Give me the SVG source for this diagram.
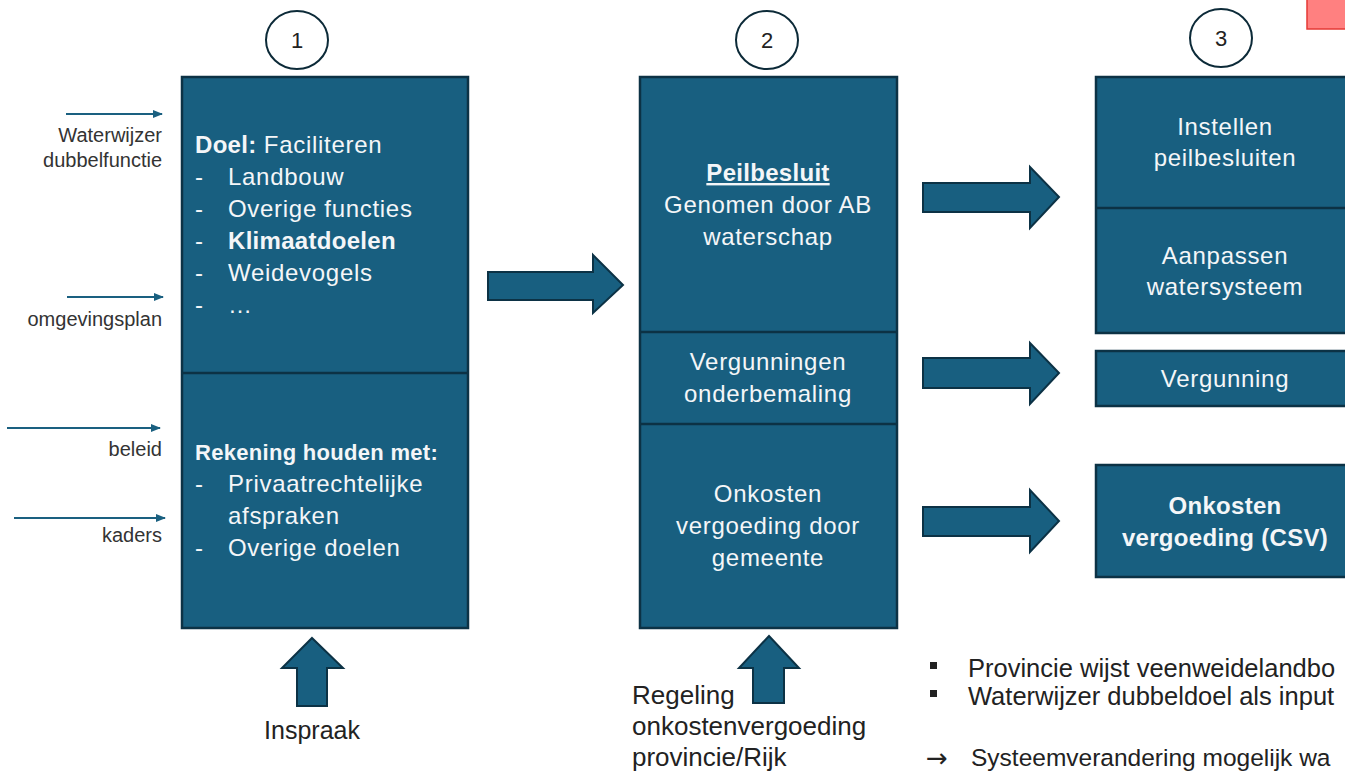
<svg xmlns="http://www.w3.org/2000/svg" width="1345" height="771" viewBox="0 0 1345 771">
<defs>
<style>
.box{fill:#185f80;stroke:#0c3245;stroke-width:2.5}
.div{stroke:#0c3245;stroke-width:2.5}
.big{fill:#185f80;stroke:#0c3245;stroke-width:2;stroke-linejoin:miter}
.wt{font-family:"Liberation Sans",Arial,sans-serif;font-size:24px;letter-spacing:0.7px;fill:#f4f6f8}
.c{text-anchor:middle}
.b{font-weight:bold;letter-spacing:0.3px}
.lbl{font-family:"Liberation Sans",Arial,sans-serif;font-size:20px;fill:#333;text-anchor:end}
.dk{font-family:"Liberation Sans",Arial,sans-serif;font-size:22px;fill:#222}
.nt{font-family:"Liberation Sans",Arial,sans-serif;font-size:26px;fill:#222}
.circ{fill:#fff;stroke:#0c2a38;stroke-width:2}
.thin{stroke:#1a6080;stroke-width:2;fill:none;marker-end:url(#ah)}
</style>
<marker id="ah" markerWidth="10" markerHeight="8" refX="9" refY="4" orient="auto" markerUnits="userSpaceOnUse">
<path d="M0,0 L10,4 L0,8 Z" fill="#1a6080"/>
</marker>
</defs>
<rect width="1345" height="771" fill="#fff"/>

<rect x="1307" y="-2" width="44" height="31" fill="#ff8080" stroke="#e53935" stroke-width="1.5"/>

<g id="step1">
<ellipse class="circ" cx="297" cy="40" rx="31" ry="29"/>
<text class="dk c" x="297" y="48">1</text>
</g>
<g id="step2">
<ellipse class="circ" cx="767" cy="40" rx="31" ry="29"/>
<text class="dk c" x="767" y="48">2</text>
</g>
<g id="step3">
<ellipse class="circ" cx="1221" cy="38" rx="31" ry="29"/>
<text class="dk c" x="1221" y="46">3</text>
</g>

<g id="box1">
<rect class="box" x="182" y="77" width="286" height="551"/>
<line class="div" x1="182" y1="373" x2="468" y2="373"/>
<text class="wt" x="195" y="153"><tspan class="b">Doel:</tspan> Faciliteren</text>
<text class="wt" x="195" y="185">-</text><text class="wt" x="228" y="185">Landbouw</text>
<text class="wt" x="195" y="217">-</text><text class="wt" x="228" y="217">Overige functies</text>
<text class="wt" x="195" y="249">-</text><text class="wt b" x="228" y="249">Klimaatdoelen</text>
<text class="wt" x="195" y="281">-</text><text class="wt" x="228" y="281">Weidevogels</text>
<text class="wt" x="195" y="313">-</text><text class="wt" x="228" y="313">…</text>
<text class="wt b" x="195" y="460" style="font-size:22px">Rekening houden met:</text>
<text class="wt" x="195" y="492">-</text><text class="wt" x="228" y="492">Privaatrechtelijke</text>
<text class="wt" x="228" y="524">afspraken</text>
<text class="wt" x="195" y="556">-</text><text class="wt" x="228" y="556">Overige doelen</text>
</g>

<g id="box2">
<rect class="box" x="640" y="77" width="257" height="551"/>
<line class="div" x1="640" y1="332" x2="897" y2="332"/>
<line class="div" x1="640" y1="424" x2="897" y2="424"/>
<text class="wt c b" x="768" y="181" text-decoration="underline">Peilbesluit</text>
<text class="wt c" x="768" y="213">Genomen door AB</text>
<text class="wt c" x="768" y="245">waterschap</text>
<text class="wt c" x="768" y="370">Vergunningen</text>
<text class="wt c" x="768" y="402">onderbemaling</text>
<text class="wt c" x="768" y="502">Onkosten</text>
<text class="wt c" x="768" y="534">vergoeding door</text>
<text class="wt c" x="768" y="566">gemeente</text>
</g>

<g id="box3a">
<rect class="box" x="1096" y="77" width="270" height="256"/>
<line class="div" x1="1096" y1="208" x2="1366" y2="208"/>
<text class="wt c" x="1225" y="135">Instellen</text>
<text class="wt c" x="1225" y="166">peilbesluiten</text>
<text class="wt c" x="1225" y="264">Aanpassen</text>
<text class="wt c" x="1225" y="295">watersysteem</text>
</g>
<g id="box3b">
<rect class="box" x="1096" y="351" width="270" height="55"/>
<text class="wt c" x="1225" y="387">Vergunning</text>
</g>
<g id="box3c">
<rect class="box" x="1096" y="465" width="270" height="112"/>
<text class="wt c b" x="1225" y="514">Onkosten</text>
<text class="wt c b" x="1225" y="546">vergoeding (CSV)</text>
</g>

<g id="connectors">
<path class="big" d="M488,272 H593 V255 L623,285 L593,313 V300 H488 Z"/>
<path class="big" d="M923,183 H1030 V167 L1059,197 L1030,228 V212 H923 Z"/>
<path class="big" d="M923,358 H1030 V343 L1059,373 L1030,404 V388 H923 Z"/>
<path class="big" d="M923,507 H1030 V490 L1059,521 L1030,552 V536 H923 Z"/>
<path class="big" d="M312,638 L343,668 H327 V706 H297 V668 H282 Z"/>
<path class="big" d="M769,636 L799,668 H784 V703 H753 V668 H739 Z"/>
<line class="thin" x1="66" y1="114" x2="162" y2="114"/>
<line class="thin" x1="67" y1="297" x2="163" y2="297"/>
<line class="thin" x1="7" y1="428" x2="160" y2="428"/>
<line class="thin" x1="14" y1="518" x2="165" y2="518"/>
</g>

<g id="labels">
<text class="lbl" x="162" y="142">Waterwijzer</text>
<text class="lbl" x="162" y="167">dubbelfunctie</text>
<text class="lbl" x="162" y="326">omgevingsplan</text>
<text class="lbl" x="162" y="456">beleid</text>
<text class="lbl" x="162" y="542">kaders</text>
<text class="dk c" x="312" y="739" style="font-size:25px">Inspraak</text>
<text class="nt" x="632" y="704">Regeling</text>
<text class="nt" x="632" y="735">onkostenvergoeding</text>
<text class="nt" x="632" y="766">provincie/Rijk</text>
</g>

<g id="notes">
<rect x="930" y="662" width="7" height="7" fill="#222"/>
<rect x="930" y="690" width="7" height="7" fill="#222"/>
<text class="nt" x="968" y="677" style="font-size:25.5px">Provincie wijst veenweidelandbo</text>
<text class="nt" x="968" y="705" style="font-size:25.5px">Waterwijzer dubbeldoel als input</text>
<text class="nt" x="926" y="767" style="font-family:'DejaVu Sans',sans-serif;font-size:26px">→</text>
<text class="nt" x="971" y="766" style="font-size:24.5px">Systeemverandering mogelijk wa</text>
</g>
</svg>
